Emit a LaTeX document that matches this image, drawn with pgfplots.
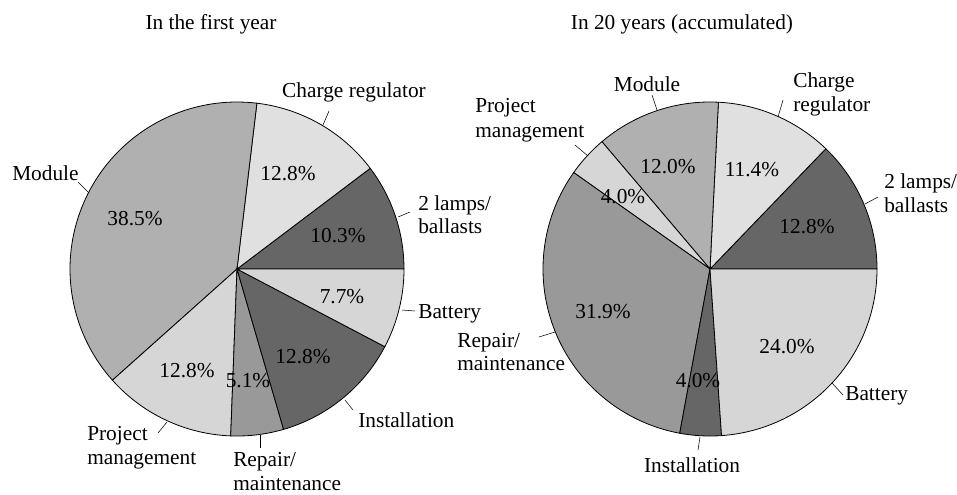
\documentclass[border=0pt]{standalone}
\usepackage{fontspec}
\setmainfont{Liberation Serif}
\usepackage{pgfplots}
\pgfplotsset{compat=1.18}
\definecolor{cdark}{HTML}{666666}
\definecolor{cmod}{HTML}{B0B0B0}
\definecolor{clightA}{HTML}{E0E0E0}
\definecolor{clightB}{HTML}{D6D6D6}
\definecolor{crep}{HTML}{999999}
\def\cum{0}
% #1 cx, #2 cy (pixels), #3 percentage, #4 colour
\newcommand{\slice}[4]{%
  \pgfmathsetmacro{\sa}{\cum*3.6}%
  \pgfmathsetmacro{\se}{(\cum+#3)*3.6}%
  \pgfmathsetmacro{\newcum}{\cum+#3}%
  \xdef\cum{\newcum}%
  \edef\doslice{\noexpand\addplot[fill=#4,draw=black,line width=0.6pt,domain=\sa:\se,samples=80,mark=none] ({#1+167*cos(x)},{#2-167*sin(x)}) -- (axis cs:#1,#2) -- cycle;}%
  \doslice
}
\begin{document}
\fontsize{16}{19}\selectfont
\begin{tikzpicture}[every node/.style={inner sep=0pt}]
\begin{axis}[
  scale only axis, width=717.75pt, height=370.5pt,
  xmin=0, xmax=957, ymin=0, ymax=494, y dir=reverse,
  hide axis, clip=false,
]
% ---- In the first year ----
\gdef\cum{0}
\slice{237}{269}{10.3}{cdark}   % 2 lamps/ballasts
\slice{237}{269}{12.8}{clightA} % Charge regulator
\slice{237}{269}{38.5}{cmod}    % Module
\slice{237}{269}{12.8}{clightB} % Project management
\slice{237}{269}{5.1}{crep}     % Repair/maintenance
\slice{237}{269}{12.8}{cdark}   % Installation
\slice{237}{269}{7.7}{clightB}  % Battery
% ---- In 20 years (accumulated) ----
\gdef\cum{0}
\slice{710}{269}{12.8}{cdark}   % 2 lamps/ballasts
\slice{710}{269}{11.4}{clightA} % Charge regulator
\slice{710}{269}{12.0}{cmod}    % Module
\slice{710}{269}{4.0}{clightB}  % Project management
\slice{710}{269}{31.9}{crep}    % Repair/maintenance
\slice{710}{269}{4.0}{cdark}    % Installation
\slice{710}{269}{23.9}{clightB} % Battery (24.0%)

% titles
\node[anchor=base] at (axis cs:211,30) {In the first year};
\node[anchor=base] at (axis cs:682,30) {In 20 years (accumulated)};

% left percentages
\node[anchor=base] at (axis cs:135,225) {38.5\%};
\node[anchor=base] at (axis cs:288,180) {12.8\%};
\node[anchor=base] at (axis cs:338,242) {10.3\%};
\node[anchor=base] at (axis cs:342,303) {7.7\%};
\node[anchor=base] at (axis cs:303,363) {12.8\%};
\node[anchor=base] at (axis cs:248,387) {5.1\%};
\node[anchor=base] at (axis cs:187,377) {12.8\%};
% left labels
\node[anchor=base] at (axis cs:354,98) {Charge regulator};
\node[anchor=base west] at (axis cs:12,180) {Module};
\node[anchor=base west] at (axis cs:418,210) {2 lamps/};
\node[anchor=base west] at (axis cs:418,233) {ballasts};
\node[anchor=base west] at (axis cs:418,318) {Battery};
\node[anchor=base west] at (axis cs:358,427) {Installation};
\node[anchor=base west] at (axis cs:233,466) {Repair/};
\node[anchor=base west] at (axis cs:233,490) {maintenance};
\node[anchor=base west] at (axis cs:87,440) {Project};
\node[anchor=base west] at (axis cs:87,464) {management};
% left leaders
\draw (axis cs:323,125) -- (axis cs:329,111);
\draw (axis cs:78,182) -- (axis cs:89,193);
\draw (axis cs:398,217) -- (axis cs:410,212);
\draw (axis cs:402,310) -- (axis cs:415,311);
\draw (axis cs:345,400) -- (axis cs:353,410);
\draw (axis cs:260,435) -- (axis cs:260,448);
\draw (axis cs:158,433) -- (axis cs:167,422);

% right percentages
\node[anchor=base] at (axis cs:668,173) {12.0\%};
\node[anchor=base] at (axis cs:752,176) {11.4\%};
\node[anchor=base] at (axis cs:623,203) {4.0\%};
\node[anchor=base] at (axis cs:807,233) {12.8\%};
\node[anchor=base] at (axis cs:603,318) {31.9\%};
\node[anchor=base] at (axis cs:787,353) {24.0\%};
\node[anchor=base] at (axis cs:698,387) {4.0\%};
% right labels
\node[anchor=base] at (axis cs:647,92) {Module};
\node[anchor=base west] at (axis cs:793,88) {Charge};
\node[anchor=base west] at (axis cs:793,112) {regulator};
\node[anchor=base west] at (axis cs:475,113) {Project};
\node[anchor=base west] at (axis cs:475,137) {management};
\node[anchor=base west] at (axis cs:884,188) {2 lamps/};
\node[anchor=base west] at (axis cs:884,212) {ballasts};
\node[anchor=base west] at (axis cs:457,347) {Repair/};
\node[anchor=base west] at (axis cs:457,370) {maintenance};
\node[anchor=base west] at (axis cs:845,400) {Battery};
\node[anchor=base] at (axis cs:692,472) {Installation};
% right leaders
\draw (axis cs:652,95) -- (axis cs:657,110);
\draw (axis cs:778,117) -- (axis cs:783,100);
\draw (axis cs:575,145) -- (axis cs:588,156);
\draw (axis cs:865,204) -- (axis cs:878,197);
\draw (axis cs:539,337) -- (axis cs:555,332);
\draw (axis cs:832,383) -- (axis cs:843,395);
\draw (axis cs:698,450) -- (axis cs:700,437);
\end{axis}
\pgfresetboundingbox
\path (0,0) rectangle (717.75pt,370.5pt);
\end{tikzpicture}
\end{document}
